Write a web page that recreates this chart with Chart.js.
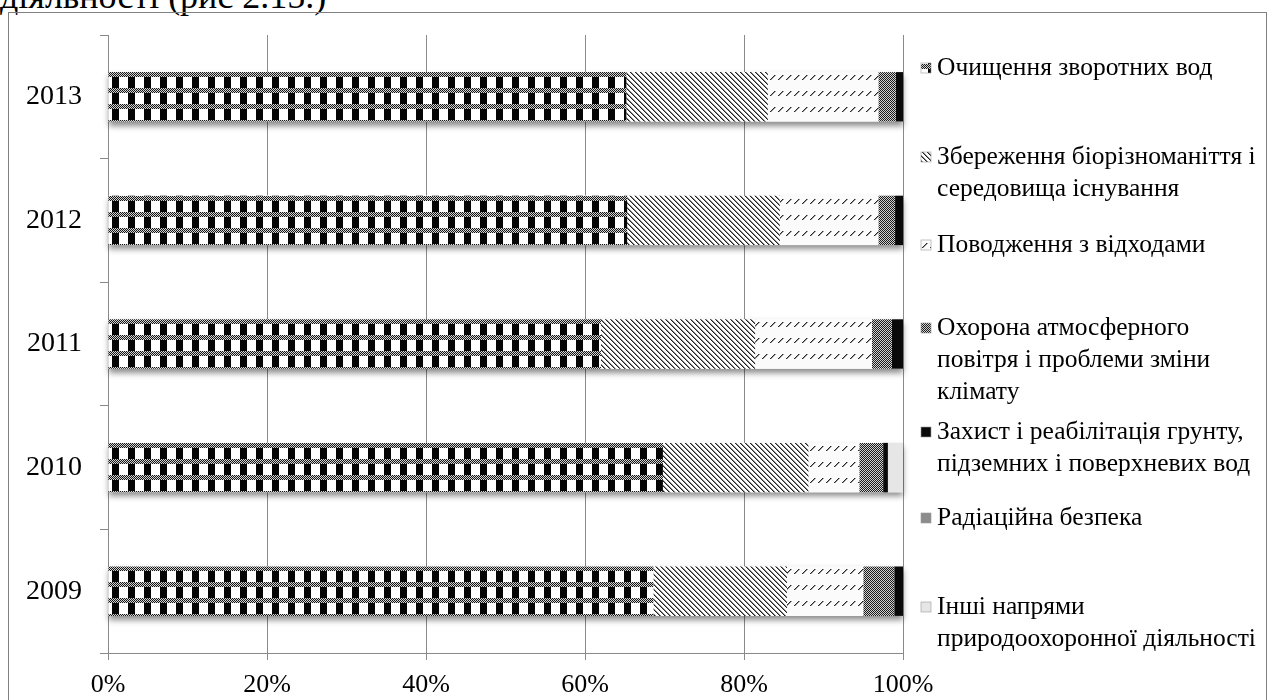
<!DOCTYPE html>
<html>
<head>
<meta charset="utf-8">
<script src="https://cdn.jsdelivr.net/npm/chart.js@4.4.1/dist/chart.umd.min.js"></script>
<style>
  html, body { margin: 0; padding: 0; background: #fff; overflow: hidden; }
  #wrap { position: relative; width: 1270px; height: 700px; }
  #caption { position: absolute; left: 0px; top: -22px; font: 36px/36px "Liberation Serif", "Times New Roman", serif; color: #000; white-space: nowrap; }
  #frame { position: absolute; left: 8px; top: 12px; width: 1259px; height: 720px; border: 1.5px solid #808080; box-sizing: border-box; }
  #c { position: absolute; left: 0; top: 0; }
</style>
</head>
<body>
<div id="wrap">
  <div id="caption">діяльності (рис 2.15.)</div>
  <div id="frame"></div>
  <canvas id="c" width="1270" height="700"></canvas>
</div>
<script>
// Years, top to bottom
const years = ['2013', '2012', '2011', '2010', '2009'];
// Percentage ticks on the horizontal axis
const xTicks = [0, 20, 40, 60, 80, 100];

// Share of each direction in total environmental spending, %
const wastewater   = [65.2, 65.3, 62.0, 69.8, 68.6];
const biodiversity = [17.8, 19.2, 19.4, 18.3, 16.8];
const wasteMgmt    = [13.9, 12.4, 14.7, 6.4, 9.6];
const airClimate   = [2.2, 2.1, 2.5, 3.0, 3.9];
const soilWater    = [0.9, 1.0, 1.4, 0.6, 1.1];
const radiation    = [0, 0, 0, 0, 0];
const otherDirs    = [0, 0, 0, 1.9, 0];

// Legend texts, already broken into lines
const seriesNames = [
  ['Очищення зворотних вод'],
  ['Збереження біорізноманіття і', 'середовища існування'],
  ['Поводження з відходами'],
  ['Охорона атмосферного', 'повітря і проблеми зміни', 'клімату'],
  ['Захист і реабілітація грунту,', 'підземних і поверхневих вод'],
  ['Радіаційна безпека'],
  ['Інші напрями', 'природоохоронної діяльності']
];
const seriesValues = [wastewater, biodiversity, wasteMgmt, airClimate, soilWater, radiation, otherDirs];

const FONT = '"Liberation Serif", "Times New Roman", serif';

// ---- monochrome fill tiles ----
function tile(w, h, pix) {
  const c = document.createElement('canvas');
  c.width = w; c.height = h;
  const g = c.getContext('2d');
  for (let y = 0; y < h; y++) {
    for (let x = 0; x < w; x++) {
      const col = pix(x, y);
      if (col) { g.fillStyle = col; g.fillRect(x, y, 1, 1); }
    }
  }
  return c;
}

const tiles = [
  // checks: dithered bands with black/white blocks
  tile(16, 16, (x, y) => {
    if (y < 5) return ((x + y) % 2 === 0) ? '#161616' : '#d4d4d4';
    return x < 7 ? '#050505' : '#ffffff';
  }),
  // thin back-slash hatching
  tile(5, 5, (x, y) => {
    const d = ((x - y) % 5 + 5) % 5;
    return d === 0 ? '#202020' : d === 1 ? '#8a8a8a' : '#ffffff';
  }),
  // rows of short forward-slash dashes
  tile(8, 16, (x, y) => {
    const dark = { 3: 6, 4: 5, 5: 4, 6: 3, 7: 2 }[y];
    if (dark === x) return '#262626';
    if (dark !== undefined && dark + 1 === x) return '#9a9a9a';
    return '#fbfbfb';
  }),
  // fine dark dither
  tile(2, 2, (x, y) => ((x + y) % 2 === 0) ? '#1c1c1c' : '#d0d0d0'),
  // solid black
  tile(2, 2, () => '#0a0a0a'),
  // mid grey
  tile(2, 2, () => '#8c8c8c'),
  // pale grey
  tile(2, 2, () => '#e6e6e6')
];

// Pattern anchored to the top edge of each bar so every bar starts the same way
function barFill(k) {
  return (ctx) => {
    const chart = ctx.chart;
    const ys = chart.scales && chart.scales.y;
    const p = chart.ctx.createPattern(tiles[k], 'repeat');
    if (ctx.type === 'data' && ys && ys.height) {
      const thick = ys.height / years.length * 0.4;
      const top = Math.round(ys.getPixelForValue(ctx.dataIndex) - thick / 2);
      p.setTransform(new DOMMatrix([1, 0, 0, 1, 0, top]));
    }
    return p;
  };
}

// Soft shadow under each whole bar
const barShadow = {
  id: 'barShadow',
  beforeDatasetsDraw(chart) {
    const ctx = chart.ctx;
    const metas = chart.getSortedVisibleDatasetMetas();
    ctx.save();
    ctx.shadowColor = 'rgba(0,0,0,0.45)';
    ctx.shadowBlur = 6;
    ctx.shadowOffsetY = 4;
    ctx.fillStyle = '#ffffff';
    years.forEach((_, i) => {
      let left = Infinity, right = -Infinity, top = 0, bottom = 0;
      metas.forEach(m => {
        const el = m.data[i];
        if (!el) return;
        const p = el.getProps(['x', 'y', 'base', 'height'], true);
        left = Math.min(left, p.base, p.x);
        right = Math.max(right, p.base, p.x);
        top = p.y - p.height / 2;
        bottom = p.y + p.height / 2;
      });
      if (right > left) ctx.fillRect(left, top, right - left, bottom - top);
    });
    ctx.restore();
  }
};

// Legend column on the right side
const legendFirstLine = [68, 157, 245, 328, 432, 518, 607];
const sideLegend = {
  id: 'sideLegend',
  afterDraw(chart) {
    const ctx = chart.ctx;
    const swX = 921, txtX = 937, lineH = 32, sw = 10;
    ctx.save();
    ctx.font = '25.5px ' + FONT;
    ctx.textBaseline = 'middle';
    ctx.textAlign = 'left';
    seriesNames.forEach((lines, k) => {
      const y0 = legendFirstLine[k];
      ctx.fillStyle = ctx.createPattern(tiles[k], 'repeat');
      ctx.fillRect(swX, y0 - sw / 2, sw, sw);
      ctx.strokeStyle = '#9a9a9a';
      ctx.lineWidth = 0.6;
      ctx.strokeRect(swX, y0 - sw / 2, sw, sw);
      ctx.fillStyle = '#000';
      lines.forEach((t, j) => ctx.fillText(t, txtX, y0 + j * lineH));
    });
    ctx.restore();
  }
};

const datasets = seriesValues.map((vals, k) => ({
  label: seriesNames[k].join(' '),
  data: vals,
  backgroundColor: barFill(k),
  borderWidth: 0,
  barPercentage: 0.4,
  categoryPercentage: 1.0
}));

new Chart(document.getElementById('c'), {
  type: 'bar',
  data: { labels: years, datasets },
  options: {
    indexAxis: 'y',
    responsive: false,
    animation: false,
    events: [],
    layout: { padding: { top: 35, right: 367, left: 0, bottom: 0 } },
    plugins: { legend: { display: false }, tooltip: { enabled: false } },
    scales: {
      x: {
        stacked: true,
        min: 0,
        max: 100,
        afterBuildTicks: (s) => { s.ticks = xTicks.map(v => ({ value: v })); },
        afterFit: (s) => { s.height = 47; },
        ticks: {
          callback: (v) => v + '%',
          color: '#000',
          font: { family: FONT, size: 26 },
          padding: 10,
          maxRotation: 0
        },
        grid: { color: '#8a8a8a', lineWidth: 1, tickLength: 7, drawOnChartArea: true },
        border: { display: true, color: '#8a8a8a', width: 1 }
      },
      y: {
        stacked: true,
        afterFit: (s) => { s.width = 108; },
        ticks: {
          color: '#000',
          font: { family: FONT, size: 28 },
          padding: 18
        },
        grid: { drawOnChartArea: false, color: '#8a8a8a', tickLength: 8, offset: true },
        border: { display: true, color: '#8a8a8a', width: 1 }
      }
    }
  },
  plugins: [barShadow, sideLegend]
});
</script>
</body>
</html>
